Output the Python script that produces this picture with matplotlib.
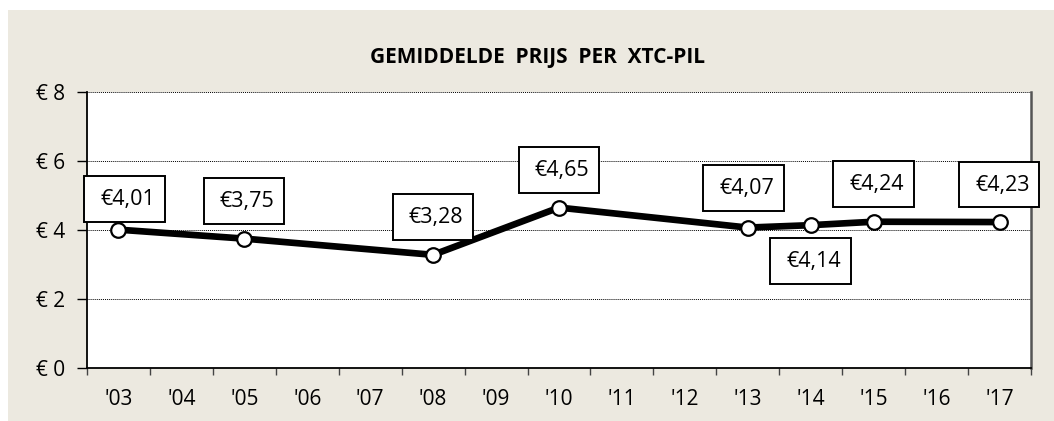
import matplotlib
matplotlib.use("agg")
import matplotlib.pyplot as plt
from matplotlib.patches import Rectangle
from matplotlib.path import Path
import numpy as np

# gemiddelde prijs per xtc-pil, alleen jaren met meting
years = ["'03", "'04", "'05", "'06", "'07", "'08", "'09", "'10",
         "'11", "'12", "'13", "'14", "'15", "'16", "'17"]
meet_jaren = ["'03", "'05", "'08", "'10", "'13", "'14", "'15", "'17"]
prijs = [4.01, 3.75, 3.28, 4.65, 4.07, 4.14, 4.24, 4.23]
yticks = [0, 2, 4, 6, 8]

# label offsets (pixels) t.o.v. het punt
label_dx = [9, 3, 3, 3, -1, 3, 3, 3]
label_dy = [30, 37, 37, 37, 39, -36, 37, 37]

plt.rcParams['font.family'] = ['Open Sans', 'DejaVu Sans']


def label_box(x0, y0, width, height, mutation_size):
    # wit kader, links wat meer ruimte dan rechts
    l, r = 0.75 * mutation_size, 0.45 * mutation_size
    b, t = 0.55 * mutation_size, 0.6 * mutation_size
    xa, xb = x0 - l, x0 + width + r
    ya, yb = y0 - b, y0 + height + t
    return Path([(xa, ya), (xb, ya), (xb, yb), (xa, yb), (xa, ya)], closed=True)


W, H = 1054, 421
fig = plt.figure(figsize=(W / 100, H / 100), dpi=100, facecolor='white')
fig.patches.append(Rectangle((8 / W, 0), 1, (H - 10) / H, transform=fig.transFigure,
                             facecolor='#ECE9E0', edgecolor='none', zorder=-1))

ax = fig.add_axes([87 / W, 1 - 368 / H, (1031 - 87) / W, (368 - 92) / H])
ax.set_facecolor('white')

x = np.arange(len(years))
xpos = [years.index(j) for j in meet_jaren]

ax.plot(xpos, prijs, color='black', lw=4.8, marker='o', ms=10.5,
        mfc='white', mec='black', mew=1.6, zorder=5, clip_on=False)

for xi, v, dx, dy in zip(xpos, prijs, label_dx, label_dy):
    txt = '€' + f'{v:.2f}'.replace('.', ',')
    ax.annotate(txt, (xi, v), xytext=(dx * 0.72, dy * 0.72), textcoords='offset points',
                ha='center', va='center', fontsize=15.5, zorder=6,
                bbox=dict(boxstyle=label_box, fc='white', ec='black', lw=1.4))

ax.set_xlim(-0.5, len(years) - 0.5)
ax.set_ylim(0, 8)
ax.set_yticks(yticks)
ax.set_yticklabels([f'€ {t}' for t in yticks], fontsize=15)
ax.set_xticks(x)
ax.set_xticklabels(years, fontsize=15)
ax.set_xticks(np.arange(len(years) + 1) - 0.5, minor=True)
ax.tick_params(axis='x', which='major', length=0, pad=15)
ax.tick_params(axis='x', which='minor', length=5, width=1, color='#444444')
ax.tick_params(axis='y', length=7, width=1, pad=9)

ax.grid(axis='y', color='black', linestyle=(0, (1, 1)), linewidth=0.7)
ax.set_axisbelow(True)
ax.spines['top'].set_visible(False)
ax.spines['right'].set_color('#555555')
ax.spines['right'].set_linewidth(1.8)
ax.spines['left'].set_linewidth(1.3)
ax.spines['bottom'].set_linewidth(1.3)

fig.text(537 / W, 1 - 57 / H, 'GEMIDDELDE  PRIJS  PER  XTC-PIL', ha='center', va='center',
         fontsize=15, fontweight='bold')

plt.savefig('out.png', dpi=100, facecolor=fig.get_facecolor())
